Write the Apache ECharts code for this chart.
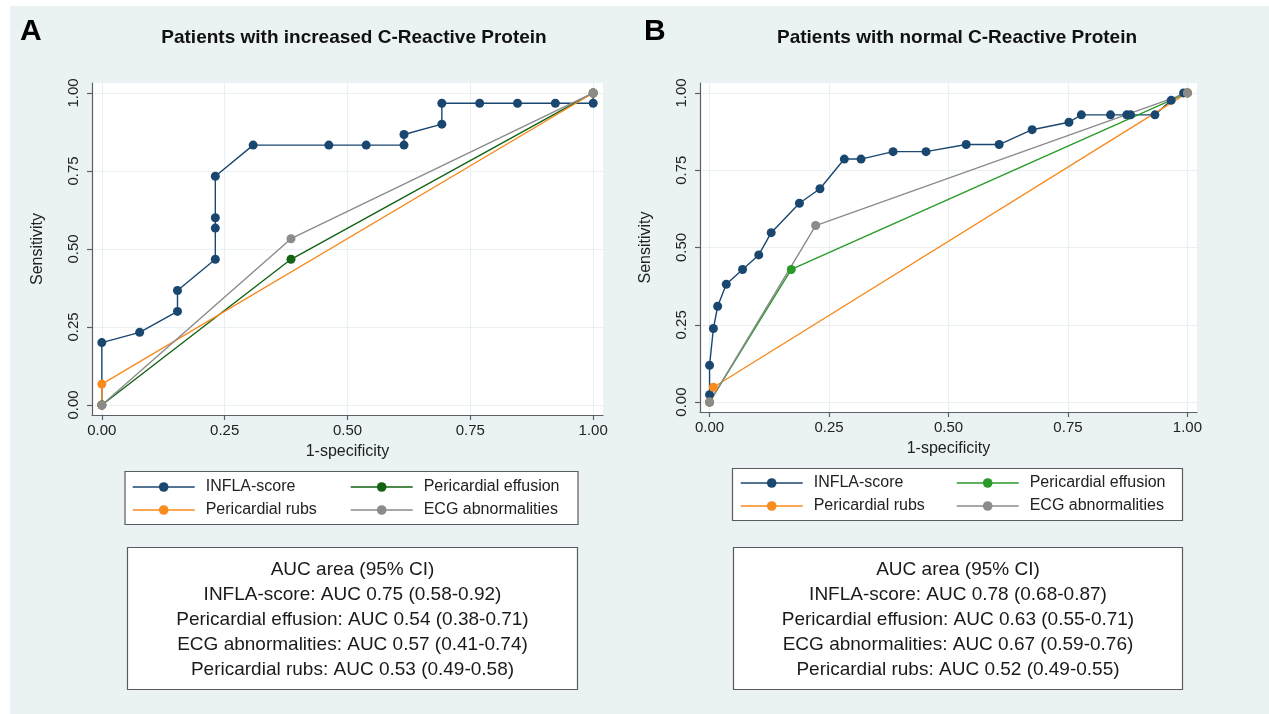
<!DOCTYPE html>
<html>
<head>
<meta charset="utf-8">
<script src="https://cdn.jsdelivr.net/npm/echarts@6/dist/echarts.min.js"></script>
<style>
  html, body { margin: 0; padding: 0; background: #ffffff; }
  #bg { position: absolute; left: 10px; top: 6px; width: 1259px; height: 708px; background: #eaf2f3; }
  #chart { position: absolute; left: 0; top: 0; width: 1269px; height: 714px; }
</style>
</head>
<body>
<div id="bg"></div>
<div id="chart"></div>
<script>
// ---------- data ----------
const tickValues = [0, 0.25, 0.5, 0.75, 1];

const seriesNames = ['INFLA-score', 'Pericardial effusion', 'Pericardial rubs', 'ECG abnormalities'];

// Panel A: patients with increased CRP  ([1-specificity, sensitivity])
const aInfla = [[0,0],[0,0.200],[0.077,0.233],[0.154,0.300],[0.154,0.367],[0.231,0.467],[0.231,0.567],[0.231,0.600],[0.231,0.733],[0.308,0.833],[0.462,0.833],[0.538,0.833],[0.615,0.833],[0.615,0.867],[0.692,0.900],[0.692,0.967],[0.769,0.967],[0.846,0.967],[0.923,0.967],[1,0.967],[1,1]];
const aEffusion = [[0,0],[0.385,0.467],[1,1]];
const aRubs = [[0,0],[0,0.067],[1,1]];
const aEcg = [[0,0],[0.385,0.533],[1,1]];

// Panel B: patients with normal CRP
const bInfla = [[0,0],[0,0.024],[0,0.119],[0.008,0.238],[0.017,0.310],[0.035,0.381],[0.069,0.429],[0.103,0.476],[0.129,0.548],[0.188,0.643],[0.231,0.690],[0.282,0.786],[0.317,0.786],[0.384,0.810],[0.453,0.810],[0.537,0.833],[0.606,0.833],[0.675,0.881],[0.752,0.905],[0.778,0.929],[0.839,0.929],[0.873,0.929],[0.881,0.929],[0.932,0.929],[0.966,0.976],[0.992,1.0],[1,1]];
const bEffusion = [[0,0],[0.171,0.429],[1,1]];
const bRubs = [[0,0],[0.008,0.048],[1,1]];
const bEcg = [[0,0],[0.222,0.571],[1,1]];

const titleA = 'Patients with increased C-Reactive Protein';
const titleB = 'Patients with normal C-Reactive Protein';

const aucA = ['AUC area (95% CI)', 'INFLA-score: AUC 0.75 (0.58-0.92)', 'Pericardial effusion: AUC 0.54 (0.38-0.71)', 'ECG abnormalities: AUC 0.57 (0.41-0.74)', 'Pericardial rubs: AUC 0.53 (0.49-0.58)'];
const aucB = ['AUC area (95% CI)', 'INFLA-score: AUC 0.78 (0.68-0.87)', 'Pericardial effusion: AUC 0.63 (0.55-0.71)', 'ECG abnormalities: AUC 0.67 (0.59-0.76)', 'Pericardial rubs: AUC 0.52 (0.49-0.55)'];

// ---------- styles ----------
const FONT = "'Liberation Sans', Arial, Helvetica, sans-serif";
const NAVY = '#1a476f';
const ORANGE = '#f88a1e';
const GREEN_A = '#136313';
const GREEN_B = '#2a9a2a';
const GRAY = '#8b8b8b';
const AXIS = '#5b6166';
const GRIDC = '#e8f0f3';

function xAxisCfg(gridIndex) {
  return {
    type: 'value', gridIndex: gridIndex, min: -0.02, max: 1.02,
    name: '1-specificity', nameLocation: 'middle', nameGap: 29,
    nameTextStyle: { fontFamily: FONT, fontSize: 16, color: '#222' },
    axisLine: { show: true, onZero: false, lineStyle: { color: AXIS, width: 1.2 } },
    axisTick: { show: true, length: 5, customValues: tickValues, lineStyle: { color: AXIS, width: 1.2 } },
    axisLabel: { customValues: tickValues, margin: 8, fontFamily: FONT, fontSize: 15, color: '#222',
      formatter: v => v.toFixed(2) },
    splitLine: { show: true, lineStyle: { color: GRIDC, width: 1.2 } }
  };
}
function yAxisCfg(gridIndex) {
  return {
    type: 'value', gridIndex: gridIndex, min: -0.032, max: 1.032,
    name: 'Sensitivity', nameLocation: 'middle', nameGap: 46,
    nameTextStyle: { fontFamily: FONT, fontSize: 16, color: '#222' },
    axisLine: { show: true, onZero: false, lineStyle: { color: AXIS, width: 1.2 } },
    axisTick: { show: true, length: 5, customValues: tickValues, lineStyle: { color: AXIS, width: 1.2 } },
    axisLabel: { customValues: tickValues, rotate: 90, margin: 11, fontFamily: FONT, fontSize: 15, color: '#222',
      formatter: v => v.toFixed(2) },
    splitLine: { show: true, lineStyle: { color: GRIDC, width: 1.2 } }
  };
}
function lineSeries(name, data, color, gi) {
  return {
    type: 'line', name: name, data: data, xAxisIndex: gi, yAxisIndex: gi,
    symbol: 'circle', symbolSize: 9, showAllSymbol: true,
    lineStyle: { color: color, width: 1.4 }, itemStyle: { color: color },
    emphasis: { disabled: true }, animation: false
  };
}
function legendItem(name, color) {
  return { name: name, itemStyle: { color: color }, lineStyle: { color: color, width: 1.4 } };
}
function legendCfg(left, top, items) {
  return {
    orient: 'vertical', left: left, top: top, padding: 0,
    itemWidth: 62, itemHeight: 12, itemGap: 7, selectedMode: false,
    textStyle: { fontFamily: FONT, fontSize: 16, lineHeight: 16, color: '#222', padding: [0, 0, 0, 6] },
    data: items
  };
}
function aucGraphic(x, y, w, h, lines) {
  return {
    type: 'group', children: [
      { type: 'rect', shape: { x: x, y: y, width: w, height: h }, style: { fill: '#fff', stroke: '#5b5b5b', lineWidth: 1.2 } },
      { type: 'text', x: x + w / 2, y: y + h / 2 + 1, style: { text: lines.join('\n'), font: '19px ' + FONT, fill: '#1a1a1a',
        textAlign: 'center', textVerticalAlign: 'middle', lineHeight: 25 } }
    ]
  };
}

const chart = echarts.init(document.getElementById('chart'), null, { renderer: 'canvas' });
chart.setOption({
  animation: false,
  backgroundColor: 'transparent',
  grid: [
    { left: 92, top: 83, width: 511, height: 332, show: true, backgroundColor: '#ffffff', borderWidth: 0 },
    { left: 700, top: 83, width: 497, height: 329, show: true, backgroundColor: '#ffffff', borderWidth: 0 }
  ],
  xAxis: [xAxisCfg(0), xAxisCfg(1)],
  yAxis: [yAxisCfg(0), yAxisCfg(1)],
  legend: [
    legendCfg(132, 479, [legendItem(seriesNames[0], NAVY), legendItem(seriesNames[2], ORANGE)]),
    legendCfg(350, 479, [legendItem(seriesNames[1], GREEN_A), legendItem(seriesNames[3], GRAY)]),
    legendCfg(740, 475, [legendItem(seriesNames[0], NAVY), legendItem(seriesNames[2], ORANGE)]),
    legendCfg(956, 475, [legendItem(seriesNames[1], GREEN_B), legendItem(seriesNames[3], GRAY)])
  ],
  graphic: [
    { type: 'text', x: 20, y: 32, style: { text: 'A', font: 'bold 30px ' + FONT, fill: '#000', textVerticalAlign: 'middle' } },
    { type: 'text', x: 644, y: 32, style: { text: 'B', font: 'bold 30px ' + FONT, fill: '#000', textVerticalAlign: 'middle' } },
    { type: 'text', x: 354, y: 38, style: { text: titleA, font: 'bold 19px ' + FONT, fill: '#111', textAlign: 'center', textVerticalAlign: 'middle' } },
    { type: 'text', x: 957, y: 38, style: { text: titleB, font: 'bold 19px ' + FONT, fill: '#111', textAlign: 'center', textVerticalAlign: 'middle' } },
    { type: 'rect', shape: { x: 125, y: 471.5, width: 453, height: 53 }, style: { fill: '#fff', stroke: '#5b5b5b', lineWidth: 1.2 } },
    { type: 'rect', shape: { x: 732.5, y: 468.5, width: 450, height: 52 }, style: { fill: '#fff', stroke: '#5b5b5b', lineWidth: 1.2 } },
    aucGraphic(127.5, 547.5, 450, 142, aucA),
    aucGraphic(733.5, 547.5, 449, 142, aucB)
  ],
  series: [
    lineSeries(seriesNames[0], aInfla, NAVY, 0),
    lineSeries(seriesNames[1], aEffusion, GREEN_A, 0),
    lineSeries(seriesNames[2], aRubs, ORANGE, 0),
    lineSeries(seriesNames[3], aEcg, GRAY, 0),
    lineSeries(seriesNames[0], bInfla, NAVY, 1),
    lineSeries(seriesNames[1], bEffusion, GREEN_B, 1),
    lineSeries(seriesNames[2], bRubs, ORANGE, 1),
    lineSeries(seriesNames[3], bEcg, GRAY, 1)
  ]
});
</script>
</body>
</html>
